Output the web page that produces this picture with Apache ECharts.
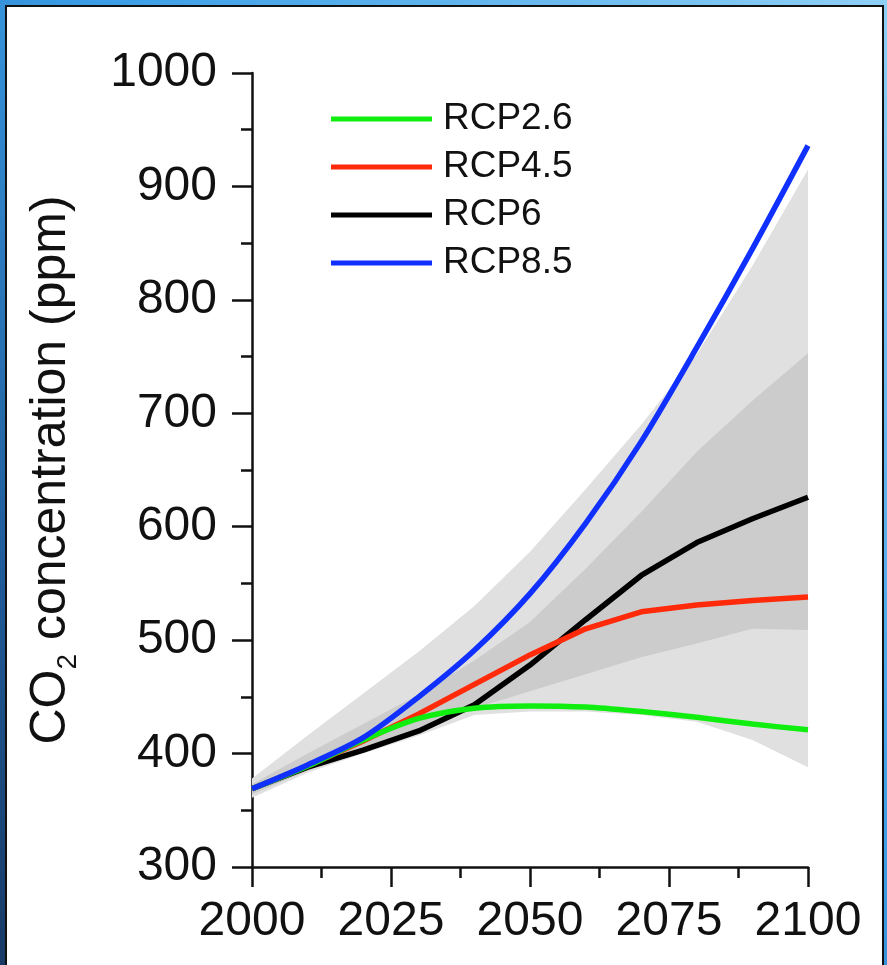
<!DOCTYPE html>
<html><head><meta charset="utf-8">
<script src="https://cdn.jsdelivr.net/npm/echarts@6/dist/echarts.min.js"></script>
<style>
html,body{margin:0;padding:0;width:887px;height:965px;overflow:hidden;
 background:linear-gradient(to bottom left,#8fd0f5 0%,#3a9de6 45%,#1f5a98 80%,#183a66 100%);}
#panel{position:absolute;left:5px;top:5px;width:879px;height:975px;background:#fff;border:2px solid #111;box-sizing:border-box;}
#c{position:absolute;left:0;top:0;width:887px;height:965px;}
</style>
</head><body><div id="panel"></div><div id="c"></div>
<script>
const years    = [2000,2010,2020,2030,2040,2050,2060,2070,2080,2090,2100];
const rcp26    = [369,389,412,431,440,442,441,437,432,426,421];
const rcp45    = [369,389,411,435,461,487,510,525,531,535,538];
const rcp6     = [369,388,403,420,443,478,518,557,586,607,626];
const rcp85    = [369,390,414,450,491,541,603,675,758,845,936];
const outerLow = [361,383,400,416,434,437,437,434,428,412,388];
const outerHigh= [378,416,453,490,530,578,633,690,752,830,915];
const innerLow = [364,385,401,418,440,455,470,485,497,510,509];
const innerHigh= [373,400,426,452,482,516,563,613,666,711,753];
const seriesNames = ['RCP2.6','RCP4.5','RCP6','RCP8.5'];
const seriesColors = ['#10ee10','#ff2a0a','#000000','#1030ff'];
const yTicks = {min:300,max:1000,step:100};
const xTicks = {min:2000,max:2100,step:25};

const pairs = (arr) => years.map((y,i)=>[y,arr[i]]);

const font = 'Liberation Sans, Arial, Helvetica, sans-serif';
const axisCommon = {
  axisLine:{show:true,onZero:false,lineStyle:{color:'#111',width:2.5}},
  axisTick:{show:true,length:20,lineStyle:{color:'#111',width:2.5}},
  minorTick:{show:true,splitNumber:2,length:11,lineStyle:{color:'#111',width:2.5}},
  splitLine:{show:false}
};

function band(name,lo,hi,color){
  return {
    name:name,type:'custom',silent:true,z:1,
    data:[[years[0],lo[0]]],
    renderItem:function(params,api){
      const top = years.map((y,i)=>api.coord([y,hi[i]]));
      const bot = years.map((y,i)=>api.coord([y,lo[i]])).reverse();
      return {type:'polygon',shape:{points:top.concat(bot),smooth:0},style:{fill:color,stroke:null}};
    }
  };
}
const dataMap = {'RCP2.6':rcp26,'RCP4.5':rcp45,'RCP6':rcp6,'RCP8.5':rcp85};
const drawOrder = ['RCP6','RCP4.5','RCP2.6','RCP8.5'];
const lineSeries = drawOrder.map(n=>{
  const c = seriesColors[seriesNames.indexOf(n)];
  return {name:n,type:'line',data:pairs(dataMap[n]),symbol:'none',smooth:n==='RCP8.5'||n==='RCP2.6'?0.3:false,
    lineStyle:{color:c,width:5.5},itemStyle:{color:c},z:3};
});

const chart = echarts.init(document.getElementById('c'),null,{renderer:'canvas'});
chart.setOption({
  backgroundColor:'transparent',
  animation:false,
  grid:{left:252,right:79,top:73,bottom:98,containLabel:false},
  legend:{orient:'vertical',left:331,top:95,padding:0,itemWidth:101,itemHeight:5,itemGap:0,icon:'rect',
    textStyle:{fontSize:37,fontFamily:font,color:'#111',lineHeight:48,padding:[0,0,0,6]},
    data:seriesNames},
  xAxis:Object.assign({type:'value',min:xTicks.min,max:xTicks.max,interval:xTicks.step,
    axisLabel:{fontSize:48,fontFamily:font,color:'#111',margin:31,formatter:v=>String(v)}},axisCommon),
  yAxis:Object.assign({type:'value',min:yTicks.min,max:yTicks.max,interval:yTicks.step,
    axisLabel:{fontSize:48,fontFamily:font,color:'#111',margin:35,formatter:v=>String(v)},
    name:'{a|CO}{s|2}{a| concentration (ppm)}',nameLocation:'middle',nameRotate:90,nameGap:170,
    nameTextStyle:{rich:{
      a:{fontSize:50,fontFamily:font,color:'#111',lineHeight:62,verticalAlign:'middle'},
      s:{fontSize:28,fontFamily:font,color:'#111',lineHeight:62,verticalAlign:'bottom'}}}},axisCommon),
  series:[band('outer',outerLow,outerHigh,'#e0e0e0'),band('inner',innerLow,innerHigh,'#cccccc')].concat(lineSeries)
});
</script>
</body></html>
